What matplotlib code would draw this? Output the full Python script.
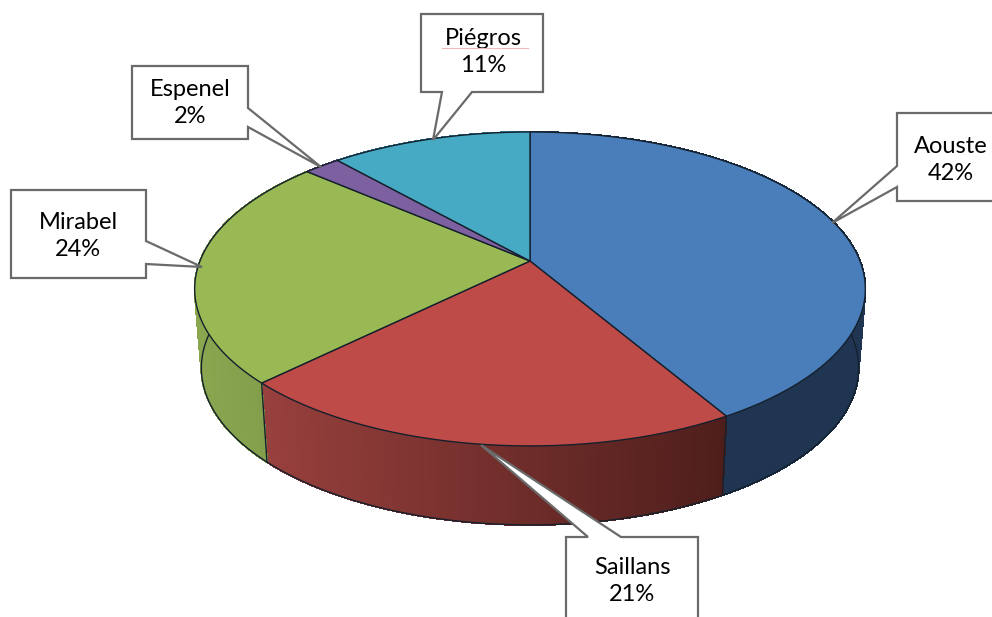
import numpy as np
import matplotlib
matplotlib.use("Agg")
import matplotlib.pyplot as plt
from matplotlib.patches import Polygon

plt.rcParams['font.family'] = ['Lato', 'DejaVu Sans']

# slices, clockwise from 12 o'clock
labels = ['Aouste', 'Saillans', 'Mirabel', 'Espenel', 'Piégros']
values = [41.6, 21, 23.8, 2.1, 11.5]
pct_labels = ['42%', '21%', '24%', '2%', '11%']
top_colors = ['#4a7ebb', '#be4b48', '#98b954', '#7d60a0', '#46aac5']
side_left = ['#1f3552', '#98403d', '#8aa64f', '#5d4778', '#33809a']
side_right = ['#1f3552', '#4e1e1b', '#7f9a49', '#5d4778', '#33809a']

# callouts: box left, right, top, bottom, tail base 1, tip, tail base 2, text centre
boxes = {
    'Aouste': (897, 1010, 113, 201, (897, 166), (832, 223), (897, 187), (951, 160)),
    'Saillans': (566, 698, 537, 640, (588, 537), (481, 445), (621, 537), (632, 581)),
    'Mirabel': (11, 146, 190, 278, (146, 241), (202, 267), (146, 264), (78, 236)),
    'Espenel': (132, 248, 66, 139, (248, 108), (321, 167), (248, 127), (190, 103)),
    'Piégros': (421, 543, 14, 92, (442, 92), (433, 140), (472, 92), (483, 52)),
}

# pie geometry in picture pixels
cx, cy = 530, 261
rx, ry = 330, 152
persp = 0.178
depth = 79
shrink = 0.98


def rim(theta):
    # perspective view of a flat disc, theta clockwise from the top
    u = np.sin(theta)
    v = np.cos(theta)
    d = 1 + persp * v
    return cx + rx * u / d, cy - ry * v / d


def rim_low(theta):
    x, y = rim(theta)
    return cx + (x - cx) * shrink, y + depth


fig = plt.figure(figsize=(9.92, 6.17), dpi=100)
ax = fig.add_axes([0, 0, 1, 1])
ax.set_xlim(0, 992)
ax.set_ylim(617, 0)
ax.axis('off')

edges = np.cumsum([0] + values) / sum(values) * 2 * np.pi
edge_col = '#14202c'

# side wall, the top face hides the far parts
for i in range(len(values)):
    th = np.linspace(edges[i], edges[i + 1], 150)
    c0 = np.array(matplotlib.colors.to_rgb(side_left[i]))
    c1 = np.array(matplotlib.colors.to_rgb(side_right[i]))
    xt, yt = rim(th)
    xb, yb = rim_low(th)
    for j in range(len(th) - 1):
        # gradient goes left to right on screen
        f = (xt[j] - xt.min()) / max(xt.max() - xt.min(), 1)
        col = c0 + (c1 - c0) * f
        ax.add_patch(Polygon([(xt[j], yt[j]), (xt[j + 1], yt[j + 1]),
                              (xb[j + 1], yb[j + 1]), (xb[j], yb[j])],
                             fc=col, ec=col, lw=0.8, antialiased=False, zorder=2))

# lower rim and the upright seams on the visible front
th = np.linspace(np.radians(60), np.radians(300), 300)
xb, yb = rim_low(th)
ax.plot(xb, yb, color=edge_col, lw=1.0, zorder=3)
for e in edges:
    if np.pi / 2 < e < 3 * np.pi / 2:
        x0, y0 = rim(e)
        x1, y1 = rim_low(e)
        ax.plot([x0, x1], [y0, y1], color=edge_col, lw=1.0, zorder=3)
# outer silhouette at both sides
for t in [np.radians(80), np.radians(280)]:
    x0, y0 = rim(t)
    x1, y1 = rim_low(t)
    ax.plot([x0, x1], [y0, y1], color=edge_col, lw=0.9, zorder=3)

# top face
for i in range(len(values)):
    th = np.linspace(edges[i], edges[i + 1], 120)
    x, y = rim(th)
    pts = [(cx, cy)] + list(zip(x, y))
    ax.add_patch(Polygon(pts, closed=True, fc=top_colors[i], ec=edge_col,
                         lw=1.0, joinstyle='round', zorder=4))

# callouts
for i, name in enumerate(labels):
    l, r, t, b, p1, tip, p2, centre = boxes[name]
    if name == 'Aouste':
        pts = [(l, t), (r, t), (r, b), (l, b), p2, tip, p1]
    elif name == 'Saillans':
        pts = [(l, t), p1, tip, p2, (r, t), (r, b), (l, b)]
    elif name == 'Piégros':
        pts = [(l, t), (r, t), (r, b), p2, tip, p1, (l, b)]
    else:
        pts = [(l, t), (r, t), p1, tip, p2, (r, b), (l, b)]
    ax.add_patch(Polygon(pts, closed=True, fc='white', ec='#6a6a6a', lw=1.6,
                         joinstyle='miter', zorder=6))
    ax.text(centre[0], centre[1], name + '\n' + pct_labels[i], ha='center', va='center',
            fontsize=17, color='black', linespacing=1.36, zorder=7)

# spellcheck underline below Piégros
ax.plot([442, 528], [48, 48], color='#f0b8b8', lw=0.8, zorder=8)

fig.savefig('out.png', dpi=100)
